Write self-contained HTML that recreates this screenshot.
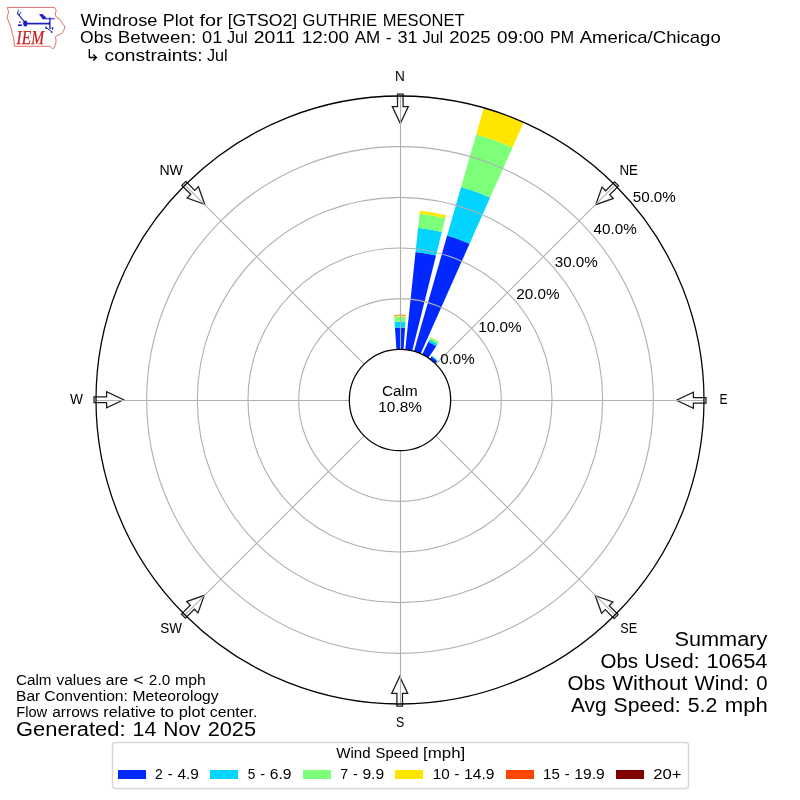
<!DOCTYPE html>
<html lang="en"><head><meta charset="utf-8"><title>Windrose Plot for [GTSO2] GUTHRIE MESONET</title>
<style>html,body{margin:0;padding:0;background:#fff}body{width:800px;height:800px;overflow:hidden;font-family:"Liberation Sans",sans-serif}svg{display:block;will-change:transform}text{font-family:"Liberation Sans",sans-serif;fill:#000}</style>
</head><body>
<svg width="800" height="800" viewBox="0 0 800 800">
<rect width="800" height="800" fill="#fff"/>
<defs><clipPath id="c"><circle cx="400" cy="400" r="304"/></clipPath></defs>
<g clip-path="url(#c)" shape-rendering="geometricPrecision">
<path d="M396.47 349.46L394.94 327.67A72.5 72.5 0 0 1 405.06 327.67L403.53 349.46A50.67 50.67 0 0 0 396.47 349.46Z" fill="#0028ff"/>
<path d="M394.94 327.67L394.54 321.86A78.33 78.33 0 0 1 405.46 321.86L405.06 327.67A72.5 72.5 0 0 0 394.94 327.67Z" fill="#00d4ff"/>
<path d="M394.54 321.86L394.18 316.81A83.4 83.4 0 0 1 405.82 316.81L405.46 321.86A78.33 78.33 0 0 0 394.54 321.86Z" fill="#7dff7a"/>
<path d="M394.18 316.81L394.09 315.49A84.71 84.71 0 0 1 405.91 315.49L405.82 316.81A83.4 83.4 0 0 0 394.18 316.81Z" fill="#ffe600"/>
<path d="M394.09 315.49L394.07 315.19A85.02 85.02 0 0 1 405.93 315.19L405.91 315.49A84.71 84.71 0 0 0 394.09 315.49Z" fill="#ff4700"/>
<path d="M394.07 315.19L394.05 314.94A85.27 85.27 0 0 1 405.95 314.94L405.93 315.19A85.02 85.02 0 0 0 394.07 315.19Z" fill="#800000"/>
<path d="M405.3 349.61L415.57 251.91A148.91 148.91 0 0 1 436.02 255.51L412.26 350.84A50.67 50.67 0 0 0 405.3 349.61Z" fill="#0028ff"/>
<path d="M415.57 251.91L418.09 227.87A173.08 173.08 0 0 1 441.87 232.06L436.02 255.51A148.91 148.91 0 0 0 415.57 251.91Z" fill="#00d4ff"/>
<path d="M418.09 227.87L419.57 213.76A187.26 187.26 0 0 1 445.3 218.3L441.87 232.06A173.08 173.08 0 0 0 418.09 227.87Z" fill="#7dff7a"/>
<path d="M419.57 213.76L419.9 210.64A190.41 190.41 0 0 1 446.06 215.25L445.3 218.3A187.26 187.26 0 0 0 419.57 213.76Z" fill="#ffe600"/>
<path d="M413.97 351.3L447.15 235.58A171.05 171.05 0 0 1 469.57 243.74L420.61 353.71A50.67 50.67 0 0 0 413.97 351.3Z" fill="#0028ff"/>
<path d="M447.15 235.58L461.09 186.97A221.62 221.62 0 0 1 490.14 197.54L469.57 243.74A171.05 171.05 0 0 0 447.15 235.58Z" fill="#00d4ff"/>
<path d="M461.09 186.97L476.21 134.22A276.49 276.49 0 0 1 512.46 147.42L490.14 197.54A221.62 221.62 0 0 0 461.09 186.97Z" fill="#7dff7a"/>
<path d="M476.21 134.22L484.63 104.85A307.04 307.04 0 0 1 524.88 119.51L512.46 147.42A276.49 276.49 0 0 0 476.21 134.22Z" fill="#ffe600"/>
<path d="M422.21 354.46L428.36 341.85A64.7 64.7 0 0 1 436.18 346.36L428.33 358A50.67 50.67 0 0 0 422.21 354.46Z" fill="#0028ff"/>
<path d="M428.36 341.85L429.56 339.39A67.44 67.44 0 0 1 437.71 344.09L436.18 346.36A64.7 64.7 0 0 0 428.36 341.85Z" fill="#00d4ff"/>
<path d="M429.56 339.39L430.54 337.38A69.67 69.67 0 0 1 438.96 342.24L437.71 344.09A67.44 67.44 0 0 0 429.56 339.39Z" fill="#7dff7a"/>
<path d="M430.54 337.38L430.7 337.07A70.02 70.02 0 0 1 439.16 341.95L438.96 342.24A69.67 69.67 0 0 0 430.54 337.38Z" fill="#ffe600"/>
<path d="M429.78 359.01L431.57 356.55A53.71 53.71 0 0 1 437.31 361.37L435.2 363.55A50.67 50.67 0 0 0 429.78 359.01Z" fill="#0028ff"/>
<path d="M431.57 356.55L432.01 355.94A54.47 54.47 0 0 1 437.84 360.82L437.31 361.37A53.71 53.71 0 0 0 431.57 356.55Z" fill="#00d4ff"/>
<path d="M432.01 355.94L432.25 355.61A54.87 54.87 0 0 1 438.12 360.53L437.84 360.82A54.47 54.47 0 0 0 432.01 355.94Z" fill="#7dff7a"/>
</g>
<g fill="#fff" stroke="#1a1a1a" stroke-width="1.25" stroke-linejoin="miter">
<polygon points="397.5,94 403.1,94 403.1,106.6 408.3,106.6 400.3,123.5 392.3,106.6 397.5,106.6"/>
<polygon points="614.61,181.86 618.57,185.82 609.66,194.73 613.33,198.4 595.73,204.7 602.02,187.09 605.7,190.77"/>
<polygon points="706,397.5 706,403.1 693.4,403.1 693.4,408.3 676.5,400.3 693.4,392.3 693.4,397.5"/>
<polygon points="618.14,614.61 614.18,618.57 605.27,609.66 601.6,613.33 595.3,595.73 612.91,602.02 609.23,605.7"/>
<polygon points="402.5,706 396.9,706 396.9,693.4 391.7,693.4 399.7,676.5 407.7,693.4 402.5,693.4"/>
<polygon points="185.39,618.14 181.43,614.18 190.34,605.27 186.67,601.6 204.27,595.3 197.98,612.91 194.3,609.23"/>
<polygon points="94,402.5 94,396.9 106.6,396.9 106.6,391.7 123.5,399.7 106.6,407.7 106.6,402.5"/>
<polygon points="181.86,185.39 185.82,181.43 194.73,190.34 198.4,186.67 204.7,204.27 187.09,197.98 190.77,194.3"/>
</g>
<g stroke="#b0b0b0" stroke-width="1.11" fill="none">
<line x1="400.5" y1="349.33" x2="400.5" y2="96"/>
<line x1="435.83" y1="364.17" x2="614.96" y2="185.04"/>
<line x1="450.67" y1="400.5" x2="704" y2="400.5"/>
<line x1="435.83" y1="435.83" x2="614.96" y2="614.96"/>
<line x1="400.5" y1="450.67" x2="400.5" y2="704"/>
<line x1="364.17" y1="435.83" x2="185.04" y2="614.96"/>
<line x1="349.33" y1="400.5" x2="96" y2="400.5"/>
<line x1="364.17" y1="364.17" x2="185.04" y2="185.04"/>
<circle cx="400" cy="400" r="101.33"/>
<circle cx="400" cy="400" r="152"/>
<circle cx="400" cy="400" r="202.67"/>
<circle cx="400" cy="400" r="253.33"/>
</g>
<circle cx="400" cy="400" r="50.67" fill="#fff" stroke="#000" stroke-width="1.27"/>
<circle cx="400" cy="400" r="304" fill="none" stroke="#000" stroke-width="1.27"/>
<rect x="112.5" y="742.5" width="576" height="46" rx="2.8" ry="2.8" fill="#fff" stroke="#d6d6d6" stroke-width="1.39"/>
<rect x="118" y="770" width="28" height="9" fill="#0028ff"/>
<rect x="210" y="770" width="28" height="9" fill="#00d4ff"/>
<rect x="303" y="770" width="28" height="9" fill="#7dff7a"/>
<rect x="395" y="770" width="28" height="9" fill="#ffe600"/>
<rect x="506" y="770" width="28" height="9" fill="#ff4700"/>
<rect x="616" y="770" width="28" height="9" fill="#800000"/>
<text y="26" font-size="17.35"><tspan x="80.47" textLength="76.92" lengthAdjust="spacingAndGlyphs">Windrose</tspan> <tspan x="162.87" textLength="31.01" lengthAdjust="spacingAndGlyphs">Plot</tspan> <tspan x="199.48" textLength="23.12" lengthAdjust="spacingAndGlyphs">for</tspan> <tspan x="227.73" textLength="69.35" lengthAdjust="spacingAndGlyphs">[GTSO2]</tspan> <tspan x="302.61" textLength="74.4" lengthAdjust="spacingAndGlyphs">GUTHRIE</tspan> <tspan x="382.87" textLength="81.63" lengthAdjust="spacingAndGlyphs">MESONET</tspan></text>
<text y="43.2" font-size="17.39"><tspan x="80.12" textLength="32.07" lengthAdjust="spacingAndGlyphs">Obs</tspan> <tspan x="117.74" textLength="78.4" lengthAdjust="spacingAndGlyphs">Between:</tspan> <tspan x="202.07" textLength="20.17" lengthAdjust="spacingAndGlyphs">01</tspan> <tspan x="227.02" textLength="20.71" lengthAdjust="spacingAndGlyphs">Jul</tspan> <tspan x="253.73" textLength="41.67" lengthAdjust="spacingAndGlyphs">2011</tspan> <tspan x="301.65" textLength="47.39" lengthAdjust="spacingAndGlyphs">12:00</tspan> <tspan x="354.78" textLength="25.54" lengthAdjust="spacingAndGlyphs">AM</tspan> <tspan x="385.84" textLength="5.86" lengthAdjust="spacingAndGlyphs">-</tspan> <tspan x="397.56" textLength="20.1" lengthAdjust="spacingAndGlyphs">31</tspan> <tspan x="422.45" textLength="20.71" lengthAdjust="spacingAndGlyphs">Jul</tspan> <tspan x="449.2" textLength="41.44" lengthAdjust="spacingAndGlyphs">2025</tspan> <tspan x="496.94" textLength="47.16" lengthAdjust="spacingAndGlyphs">09:00</tspan> <tspan x="550.11" textLength="23.9" lengthAdjust="spacingAndGlyphs">PM</tspan> <tspan x="579.69" textLength="141.04" lengthAdjust="spacingAndGlyphs">America/Chicago</tspan></text>
<text y="684.6" font-size="14.44"><tspan x="16.01" textLength="35.55" lengthAdjust="spacingAndGlyphs">Calm</tspan> <tspan x="56.5" textLength="44.65" lengthAdjust="spacingAndGlyphs">values</tspan> <tspan x="105.79" textLength="22.39" lengthAdjust="spacingAndGlyphs">are</tspan> <tspan x="133.23" textLength="10.43" lengthAdjust="spacingAndGlyphs">&lt;</tspan> <tspan x="148.87" textLength="21.31" lengthAdjust="spacingAndGlyphs">2.0</tspan> <tspan x="175.08" textLength="30.77" lengthAdjust="spacingAndGlyphs">mph</tspan></text>
<text y="700.8" font-size="14.44"><tspan x="16.13" textLength="24.13" lengthAdjust="spacingAndGlyphs">Bar</tspan> <tspan x="44.36" textLength="83.55" lengthAdjust="spacingAndGlyphs">Convention:</tspan> <tspan x="132.61" textLength="85.98" lengthAdjust="spacingAndGlyphs">Meteorology</tspan></text>
<text y="717" font-size="14.44"><tspan x="16.19" textLength="30.92" lengthAdjust="spacingAndGlyphs">Flow</tspan> <tspan x="52.28" textLength="46.37" lengthAdjust="spacingAndGlyphs">arrows</tspan> <tspan x="103.31" textLength="52.39" lengthAdjust="spacingAndGlyphs">relative</tspan> <tspan x="160.24" textLength="13.81" lengthAdjust="spacingAndGlyphs">to</tspan> <tspan x="178.71" textLength="26.36" lengthAdjust="spacingAndGlyphs">plot</tspan> <tspan x="209.71" textLength="47.61" lengthAdjust="spacingAndGlyphs">center.</tspan></text>
<text y="736" font-size="20.22"><tspan x="15.99" textLength="109.59" lengthAdjust="spacingAndGlyphs">Generated:</tspan> <tspan x="132.61" textLength="23.8" lengthAdjust="spacingAndGlyphs">14</tspan> <tspan x="163.32" textLength="37.29" lengthAdjust="spacingAndGlyphs">Nov</tspan> <tspan x="207.7" textLength="48.38" lengthAdjust="spacingAndGlyphs">2025</tspan></text>
<text x="674.4" y="646" font-size="20.22" textLength="93.04" lengthAdjust="spacingAndGlyphs">Summary</text>
<text y="668" font-size="20.22"><tspan x="600.52" textLength="37.52" lengthAdjust="spacingAndGlyphs">Obs</tspan> <tspan x="644.59" textLength="54.9" lengthAdjust="spacingAndGlyphs">Used:</tspan> <tspan x="706.57" textLength="60.97" lengthAdjust="spacingAndGlyphs">10654</tspan></text>
<text y="690" font-size="20.22"><tspan x="567.64" textLength="37.52" lengthAdjust="spacingAndGlyphs">Obs</tspan> <tspan x="612.17" textLength="75.27" lengthAdjust="spacingAndGlyphs">Without</tspan> <tspan x="694.55" textLength="54.62" lengthAdjust="spacingAndGlyphs">Wind:</tspan> <tspan x="756.21" textLength="11.31" lengthAdjust="spacingAndGlyphs">0</tspan></text>
<text y="712" font-size="20.22"><tspan x="570.97" textLength="35.6" lengthAdjust="spacingAndGlyphs">Avg</tspan> <tspan x="613.56" textLength="66.97" lengthAdjust="spacingAndGlyphs">Speed:</tspan> <tspan x="687.77" textLength="29.58" lengthAdjust="spacingAndGlyphs">5.2</tspan> <tspan x="724.79" textLength="43.01" lengthAdjust="spacingAndGlyphs">mph</tspan></text>
<text x="382.14" y="395.9" font-size="14.44" textLength="35.55" lengthAdjust="spacingAndGlyphs">Calm</text>
<text x="378.35" y="412.1" font-size="14.44" textLength="43.45" lengthAdjust="spacingAndGlyphs">10.8%</text>
<text x="440.22" y="364.3" font-size="14.44" textLength="34.46" lengthAdjust="spacingAndGlyphs">0.0%</text>
<text x="478.3" y="332.1" font-size="14.44" textLength="43.32" lengthAdjust="spacingAndGlyphs">10.0%</text>
<text x="516.25" y="299.3" font-size="14.44" textLength="43.3" lengthAdjust="spacingAndGlyphs">20.0%</text>
<text x="554.76" y="267.1" font-size="14.44" textLength="43.09" lengthAdjust="spacingAndGlyphs">30.0%</text>
<text x="593.63" y="234.3" font-size="14.44" textLength="43.22" lengthAdjust="spacingAndGlyphs">40.0%</text>
<text x="632.76" y="201.8" font-size="14.44" textLength="43.09" lengthAdjust="spacingAndGlyphs">50.0%</text>
<text x="395.07" y="80.56" font-size="14.44" textLength="9.86" lengthAdjust="spacingAndGlyphs">N</text>
<text x="619.43" y="175.29" font-size="14.44" textLength="18.54" lengthAdjust="spacingAndGlyphs">NE</text>
<text x="719.47" y="404" font-size="14.44" textLength="7.98" lengthAdjust="spacingAndGlyphs">E</text>
<text x="620.31" y="632.71" font-size="14.44" textLength="16.79" lengthAdjust="spacingAndGlyphs">SE</text>
<text x="395.99" y="727.44" font-size="14.44" textLength="8.18" lengthAdjust="spacingAndGlyphs">S</text>
<text x="160.35" y="632.71" font-size="14.44" textLength="21.77" lengthAdjust="spacingAndGlyphs">SW</text>
<text x="70.08" y="404" font-size="14.44" textLength="12.94" lengthAdjust="spacingAndGlyphs">W</text>
<text x="159.45" y="175.29" font-size="14.44" textLength="23.5" lengthAdjust="spacingAndGlyphs">NW</text>
<text y="779" font-size="14.44"><tspan x="155.07" textLength="7.77" lengthAdjust="spacingAndGlyphs">2</tspan> <tspan x="167.89" textLength="4.84" lengthAdjust="spacingAndGlyphs">-</tspan> <tspan x="177.46" textLength="21.43" lengthAdjust="spacingAndGlyphs">4.9</tspan></text>
<text y="779" font-size="14.44"><tspan x="247.78" textLength="7.6" lengthAdjust="spacingAndGlyphs">5</tspan> <tspan x="260.39" textLength="4.84" lengthAdjust="spacingAndGlyphs">-</tspan> <tspan x="269.83" textLength="21.69" lengthAdjust="spacingAndGlyphs">6.9</tspan></text>
<text y="779" font-size="14.44"><tspan x="340.29" textLength="7.89" lengthAdjust="spacingAndGlyphs">7</tspan> <tspan x="353.01" textLength="4.84" lengthAdjust="spacingAndGlyphs">-</tspan> <tspan x="362.41" textLength="21.74" lengthAdjust="spacingAndGlyphs">9.9</tspan></text>
<text y="779" font-size="14.44"><tspan x="432.87" textLength="16.96" lengthAdjust="spacingAndGlyphs">10</tspan> <tspan x="454.51" textLength="4.84" lengthAdjust="spacingAndGlyphs">-</tspan> <tspan x="464.1" textLength="30.29" lengthAdjust="spacingAndGlyphs">14.9</tspan></text>
<text y="779" font-size="14.44"><tspan x="543.14" textLength="16.69" lengthAdjust="spacingAndGlyphs">15</tspan> <tspan x="564.76" textLength="4.84" lengthAdjust="spacingAndGlyphs">-</tspan> <tspan x="574.35" textLength="30.41" lengthAdjust="spacingAndGlyphs">19.9</tspan></text>
<text x="653.32" y="779" font-size="14.44" textLength="28.32" lengthAdjust="spacingAndGlyphs">20+</text>
<text y="757.8" font-size="14.44"><tspan x="336.27" textLength="34.3" lengthAdjust="spacingAndGlyphs">Wind</tspan> <tspan x="375.5" textLength="42.93" lengthAdjust="spacingAndGlyphs">Speed</tspan> <tspan x="423.13" textLength="42.13" lengthAdjust="spacingAndGlyphs">[mph]</tspan></text>
<path d="M89.35 48.9V57.5H95.6M93.3 54.6L96.4 57.5L93.3 60.4" fill="none" stroke="#000" stroke-width="1.35"/>
<text y="60.5" font-size="17.39"><tspan x="104.55" textLength="98.15" lengthAdjust="spacingAndGlyphs">constraints:</tspan> <tspan x="207.03" textLength="20.71" lengthAdjust="spacingAndGlyphs">Jul</tspan></text>
<g id="iem-logo">
<polygon points="7.4,7.4 54.6,7.4 55.2,9.0 56.4,10.6 55.3,12.9 55.5,15.5 57,17.75 59.25,18.5 60.75,20.75 62.6,23.75 64.5,26 64.7,28.25 63.5,31 61.9,33.3 59.75,34.4 56.6,35.6 55.5,37 55.9,39.5 56,42.5 54.9,45.6 54.2,47.6 52.7,48.9 51.2,47.4 49.4,46.3 14.6,46.3 14.2,44 14,41 13.4,36.8 11.9,32.6 11.3,29 10.1,25.4 8.6,21.2 7.1,17.9 7.4,15.8 8.6,12.8 8,9.8" fill="#fff" stroke="#d95555" stroke-width="0.85" stroke-linejoin="round"/>
<g stroke="#1c1cc4" fill="none" stroke-linecap="butt">
<path d="M25.3 23.6H49.9" stroke-width="1.7"/>
<path d="M49.9 17.6V29" stroke-width="1.3"/>
<path d="M42.8 18.8H54.7" stroke-width="1.0"/>
<path d="M25 22.6L17.4 13.2" stroke-width="1.1"/>
<path d="M17.4 13.4L18.5 10.1M19.1 15.0L20.9 12.2" stroke-width="0.9" stroke-linecap="round"/>
<path d="M46.8 28L51.8 31.6" stroke-width="0.9"/>
</g>
<g fill="#1c1cc4">
<ellipse cx="25.3" cy="23.5" rx="2.1" ry="3.0"/>
<path d="M39 14.2L42.5 14.1L46.8 18.3L42.8 19.2Z"/>
<path d="M47.6 23.6L49.9 21.6V25.6Z"/>
<rect x="19.1" y="21.7" width="1.6" height="1.2"/><rect x="18.0" y="24.4" width="3.9" height="1.7"/>
<ellipse cx="46.1" cy="27.7" rx="0.9" ry="1.3"/><ellipse cx="52.5" cy="28.4" rx="0.85" ry="1.4"/><ellipse cx="51.6" cy="32" rx="0.9" ry="1.1"/>
</g>
<text x="16.6" y="44.1" font-size="17.8" font-style="italic" textLength="27.4" lengthAdjust="spacingAndGlyphs" style="font-family:'Liberation Serif',serif;fill:#c81e1e;stroke:#c81e1e;stroke-width:0.25">IEM</text>
</g>
</svg></body></html>
